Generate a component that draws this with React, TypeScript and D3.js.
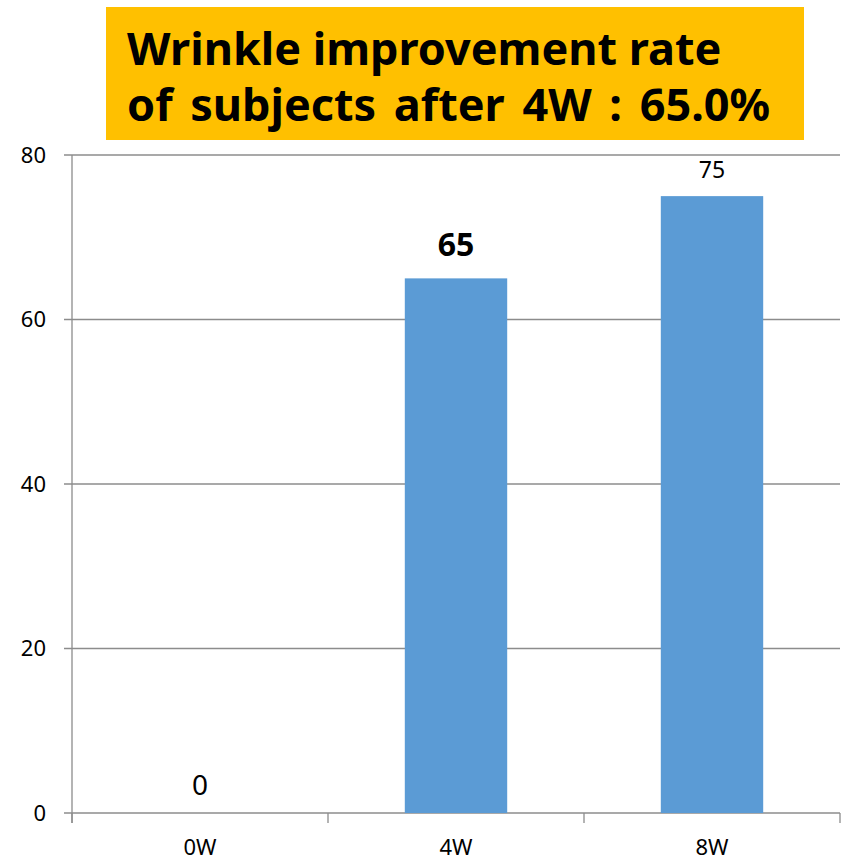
import React from 'react';
import * as d3 from 'd3';

const width = 841;
const height = 863;

const weeks = ['0W', '4W', '8W'];
const rates = [0, 65, 75];
const yTicks = [0, 20, 40, 60, 80];
const titleLines = ['Wrinkle improvement rate', 'of subjects after 4W : 65.0%'];

// label style per bar, like the original slide
const labelStyle = [
  { size: 28, weight: 'normal', dy: -18 },
  { size: 32, weight: 'bold', dy: -22 },
  { size: 23, weight: 'normal', dy: -18 }
];

const margin = { left: 72, right: 1, top: 155, bottom: 50 };
const font = '"Noto Sans", "Open Sans", sans-serif';

export default function App() {
  const x = d3
    .scaleBand()
    .domain(weeks)
    .range([margin.left, width - margin.right])
    .paddingInner(0)
    .paddingOuter(0);

  const y = d3
    .scaleLinear()
    .domain([0, 80])
    .range([height - margin.bottom, margin.top]);

  const bw = x.bandwidth();
  const barW = bw * 0.4;
  const edges = weeks.map(w => x(w)).concat([x.range()[1]]);

  return (
    <svg width={width} height={height} style={{ display: 'block', position: 'absolute', left: 0, top: 0 }}>
      <rect x={0} y={0} width={width} height={height} fill="#fff" />
      {/* title box */}
      <rect x={106} y={7} width={698} height={133} fill="#FFC000" />
      {titleLines.map((t, i) => (
        <text
          key={i}
          x={127}
          y={65 + i * 56}
          fontFamily={font}
          fontWeight="bold"
          fontSize={45}
          wordSpacing={i === 1 ? 6 : 0}
          fill="#000"
        >
          {t}
        </text>
      ))}

      {/* grid */}
      {yTicks.map(t => (
        <g key={t}>
          <line x1={margin.left - 8} x2={width - margin.right} y1={y(t)} y2={y(t)} stroke="#8c8c8c" strokeWidth={1.3} />
          <text x={46} y={y(t)} dy="0.35em" textAnchor="end" fontFamily={font} fontSize={22} fill="#000">
            {t}
          </text>
        </g>
      ))}
      <line x1={margin.left} x2={margin.left} y1={y(80)} y2={y(0) + 10} stroke="#8c8c8c" strokeWidth={1.3} />
      {edges.map((e, i) => (
        <line key={i} x1={e} x2={e} y1={y(0)} y2={y(0) + 10} stroke="#8c8c8c" strokeWidth={1.3} />
      ))}

      {/* bars */}
      {weeks.map((w, i) => (
        <rect
          key={w}
          x={x(w) + bw / 2 - barW / 2}
          y={y(rates[i])}
          width={barW}
          height={y(0) - y(rates[i])}
          fill="#5B9BD5"
        />
      ))}
      {weeks.map((w, i) => (
        <text
          key={w}
          x={x(w) + bw / 2}
          y={y(rates[i]) + labelStyle[i].dy}
          textAnchor="middle"
          fontFamily={font}
          fontSize={labelStyle[i].size}
          fontWeight={labelStyle[i].weight}
          fill="#000"
        >
          {rates[i]}
        </text>
      ))}
      {weeks.map(w => (
        <text key={w} x={x(w) + bw / 2} y={855} textAnchor="middle" fontFamily={font} fontSize={22} fill="#000">
          {w}
        </text>
      ))}
    </svg>
  );
}
